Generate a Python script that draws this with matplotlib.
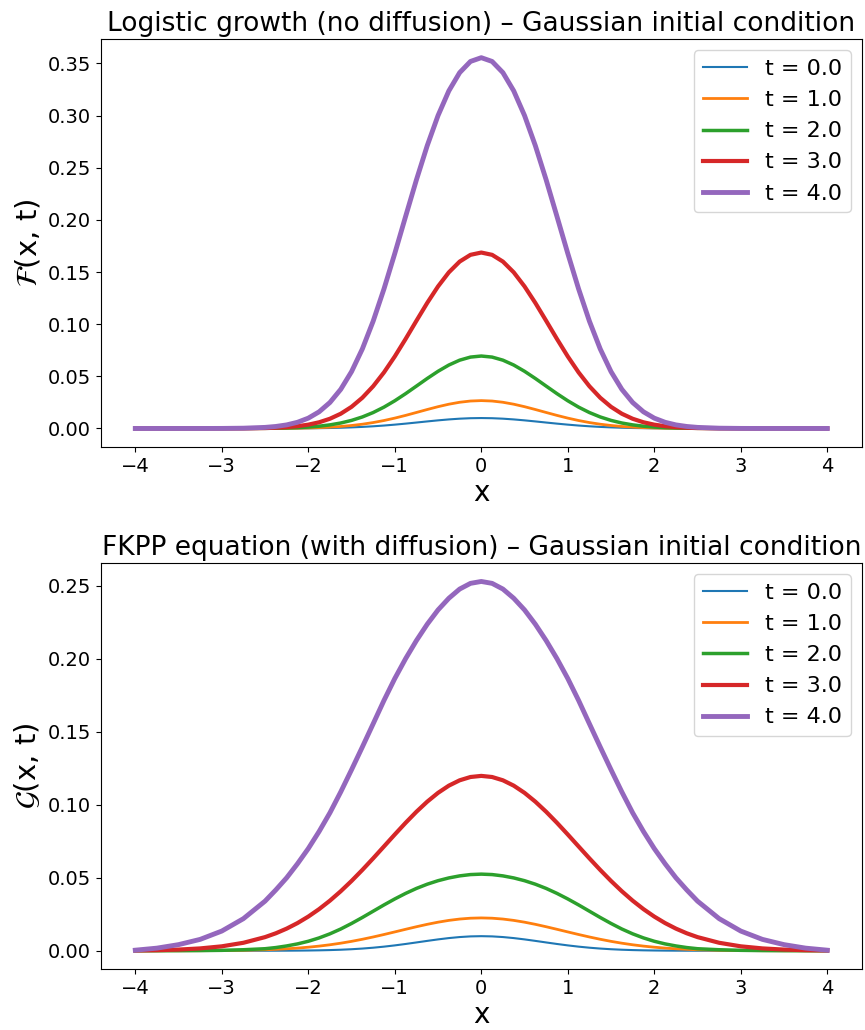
import matplotlib
matplotlib.use("Agg")
import matplotlib.pyplot as plt

# Half grid (profiles are symmetric about x = 0): finer steps near the centre
x_half = [0.0, 0.125, 0.25, 0.375, 0.5, 0.625, 0.75, 0.875, 1.0, 1.125, 1.25, 1.375,
          1.5, 1.625, 1.75, 1.875, 2.0, 2.125, 2.25, 2.375, 2.5,
          2.75, 3.0, 3.25, 3.5, 3.75, 4.0]

times = [0.0, 1.0, 2.0, 3.0, 4.0]

# ---- Top panel: logistic growth (no diffusion) ----
top_t0_half = [0.010000, 0.009845, 0.009394, 0.008688, 0.007788, 0.006766, 0.005698, 0.004650,
               0.003679, 0.002821, 0.002096, 0.001510, 0.001054, 0.000713, 0.000468, 0.000297,
               0.000183, 0.000109, 0.000063, 0.000035, 0.000019,
               0.000005, 0.000001, 0.0, 0.0, 0.0, 0.0]
top_t1_half = [0.026720, 0.026317, 0.025130, 0.023270, 0.020890, 0.018182, 0.015340, 0.012541,
               0.009940, 0.007630, 0.005680, 0.004093, 0.002860, 0.001936, 0.001270, 0.000807,
               0.000498, 0.000297, 0.000172, 0.000096, 0.000053,
               0.000014, 0.000003, 0.000001, 0.0, 0.0, 0.0]
top_t2_half = [0.069450, 0.068440, 0.065480, 0.060821, 0.054820, 0.047925, 0.040620, 0.033371,
               0.026560, 0.020473, 0.015280, 0.011049, 0.007740, 0.005245, 0.003450, 0.002192,
               0.001350, 0.000808, 0.000468, 0.000262, 0.000143,
               0.000038, 0.000009, 0.000002, 0.0, 0.0, 0.0]
top_t3_half = [0.168660, 0.166464, 0.160000, 0.149685, 0.136180, 0.120362, 0.103220, 0.085792,
               0.069050, 0.053759, 0.040480, 0.029474, 0.020750, 0.014131, 0.009320, 0.005936,
               0.003660, 0.002193, 0.001270, 0.000713, 0.000388,
               0.000104, 0.000025, 0.000005, 0.000001, 0.0, 0.0]
top_t4_half = [0.355460, 0.351854, 0.341130, 0.323643, 0.299990, 0.271111, 0.238320, 0.203249,
               0.167780, 0.133776, 0.102880, 0.076257, 0.054470, 0.037501, 0.024910, 0.015973,
               0.009900, 0.005938, 0.003440, 0.001935, 0.001050,
               0.000284, 0.000067, 0.000014, 0.000003, 0.0, 0.0]

# ---- Bottom panel: FKPP equation (with diffusion) ----
bot_t0_half = list(top_t0_half)
bot_t1_half = [0.022500, 0.022306, 0.021730, 0.020809, 0.019580, 0.018111, 0.016460, 0.014705,
               0.012910, 0.011138, 0.009446, 0.007871, 0.006446, 0.005189, 0.004104, 0.003191,
               0.002439, 0.001831, 0.001352, 0.000980, 0.000700,
               0.000338, 0.000152, 0.000064, 0.000025, 0.000009, 0.000003]
bot_t2_half = [0.0525, 0.0522, 0.0513, 0.0499, 0.0480, 0.0456, 0.0427, 0.0393,
               0.0355, 0.0314, 0.0271, 0.0228, 0.0187, 0.0149, 0.0116, 0.0088,
               0.0065, 0.0047, 0.0033, 0.0022, 0.0014,
               0.0007, 0.0003, 0.00013, 0.00005, 0.00002, 0.00001]
bot_t3_half = [0.11980, 0.11904, 0.11678, 0.11312, 0.10818, 0.10214, 0.09522, 0.08765,
               0.07965, 0.07147, 0.06331, 0.05538, 0.04782, 0.04077, 0.03432, 0.02853,
               0.02341, 0.01897, 0.01517, 0.01198, 0.00935,
               0.00547, 0.00304, 0.00161, 0.00081, 0.00039, 0.00018]
bot_t4_half = [0.2530, 0.2517, 0.2478, 0.2415, 0.2335, 0.2237, 0.2125, 0.2001,
               0.1865, 0.1715, 0.1555, 0.1396, 0.1240, 0.1088, 0.0945, 0.0817,
               0.0700, 0.0596, 0.0500, 0.0417, 0.0340,
               0.0220, 0.0135, 0.0078, 0.0042, 0.0018, 0.0004]


def mirror_x(half):
    return [-v for v in half[::-1][:-1]] + half


def mirror_y(half):
    return half[::-1][:-1] + half


x = mirror_x(x_half)
top_series = [mirror_y(s) for s in (top_t0_half, top_t1_half, top_t2_half, top_t3_half, top_t4_half)]
bot_series = [mirror_y(s) for s in (bot_t0_half, bot_t1_half, bot_t2_half, bot_t3_half, bot_t4_half)]

colors = ["#1f77b4", "#ff7f0e", "#2ca02c", "#d62728", "#9467bd"]
widths = [1.5, 2.0, 2.5, 3.0, 3.5]

fig = plt.figure(figsize=(8.65, 10.3), dpi=100)
ax1 = fig.add_axes([0.1164, 0.566, 0.880, 0.396])
ax2 = fig.add_axes([0.1164, 0.0590, 0.880, 0.3944])

panels = [
    (ax1, top_series, "Logistic growth (no diffusion) \u2013 Gaussian initial condition", r"$\mathcal{F}$(x, t)"),
    (ax2, bot_series, "FKPP equation (with diffusion) \u2013 Gaussian initial condition", r"$\mathcal{G}$(x, t)"),
]

for ax, series, title, ylabel in panels:
    for t, ys, c, lw in zip(times, series, colors, widths):
        ax.plot(x, ys, color=c, lw=lw, label=f"t = {t:.1f}")
    ax.set_title(title, fontsize=19)
    ax.set_xlabel("x", fontsize=20, labelpad=2)
    ax.set_ylabel(ylabel, fontsize=21)
    ax.tick_params(labelsize=14)
    ax.legend(fontsize=16, loc="upper right")

fig.savefig("out.png", dpi=100)
